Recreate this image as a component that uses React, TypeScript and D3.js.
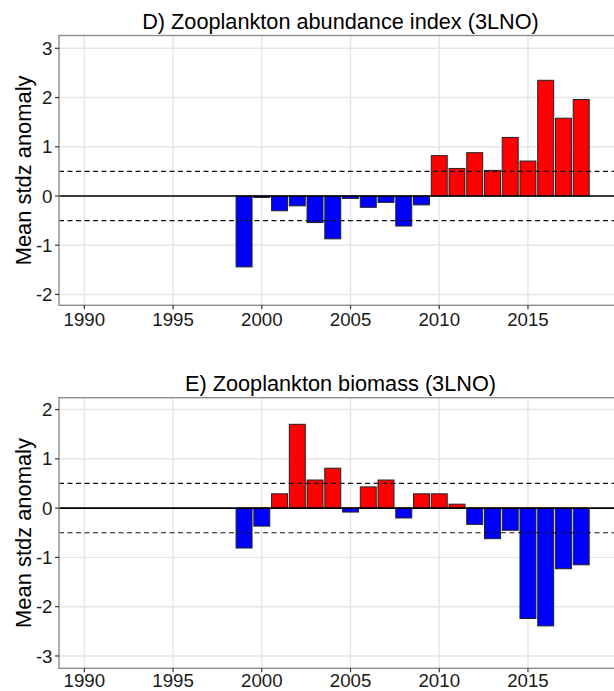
import React from "react";
import * as d3 from "d3";

const years = [1999, 2000, 2001, 2002, 2003, 2004, 2005, 2006, 2007, 2008, 2009, 2010, 2011, 2012, 2013, 2014, 2015, 2016, 2017, 2018];

const abundance = [-1.44, -0.03, -0.3, -0.2, -0.54, -0.87, -0.05, -0.23, -0.13, -0.61, -0.18, 0.82, 0.56, 0.88, 0.52, 1.19, 0.71, 2.35, 1.58, 1.96];

const biomass = [-0.81, -0.365, 0.29, 1.7, 0.57, 0.81, -0.08, 0.43, 0.57, -0.2, 0.29, 0.29, 0.08, -0.33, -0.62, -0.45, -2.24, -2.39, -1.23, -1.15];

const xTicks = [1990, 1995, 2000, 2005, 2010, 2015];
const yTicksTop = [-2, -1, 0, 1, 2, 3];
const yTicksBottom = [-3, -2, -1, 0, 1, 2];

const W = 614;
const H = 691;
const FONT = "'Liberation Sans', Arial, Helvetica, sans-serif";

type PanelProps = {
  title: string;
  values: number[];
  yDomain: [number, number];
  yTicks: number[];
  top: number;
  bottom: number;
  labelGap: number;
};

function Panel({ title, values, yDomain, yTicks, top, bottom, labelGap }: PanelProps) {
  const left = 59;
  const right = 622;
  const x = d3.scaleLinear().domain([1988.57, 2020.3]).range([left, right]);
  const y = d3.scaleLinear().domain(yDomain).range([bottom, top]);
  const bw = (x(1991) - x(1990)) * 0.9;
  const midY = (top + bottom) / 2;

  return (
    <g>
      <text x={(left + right) / 2} y={top - 7} textAnchor="middle" fontSize={21.7} fill="#000" fontFamily={FONT}>
        {title}
      </text>
      {/* panel background grid */}
      {yTicks.map((t) => (
        <line key={"gy" + t} x1={left} x2={right} y1={y(t)} y2={y(t)} stroke="#e5e5e5" strokeWidth={1.4} />
      ))}
      {xTicks.map((t) => (
        <line key={"gx" + t} x1={x(t)} x2={x(t)} y1={top} y2={bottom} stroke="#e5e5e5" strokeWidth={1.4} />
      ))}
      {/* anomaly bars */}
      {values.map((v, i) => {
        const yr = years[i];
        const y0 = y(0);
        const y1 = y(v);
        return (
          <rect
            key={yr}
            x={x(yr) - bw / 2}
            y={Math.min(y0, y1)}
            width={bw}
            height={Math.abs(y1 - y0)}
            fill={v >= 0 ? "#ff0000" : "#0000ff"}
            stroke="#222"
            strokeWidth={1}
          />
        );
      })}
      {/* reference lines */}
      <line x1={left} x2={right} y1={y(0)} y2={y(0)} stroke="#000" strokeWidth={1.6} />
      <line x1={left} x2={right} y1={y(0.5)} y2={y(0.5)} stroke="#111" strokeWidth={1.2} strokeDasharray="5,3.5" />
      <line x1={left} x2={right} y1={y(-0.5)} y2={y(-0.5)} stroke="#111" strokeWidth={1.2} strokeDasharray="5,3.5" />
      {/* panel border */}
      <rect x={left} y={top} width={right - left} height={bottom - top} fill="none" stroke="#8c8c8c" strokeWidth={1.4} />
      {/* y axis */}
      {yTicks.map((t) => (
        <g key={"ty" + t}>
          <line x1={left - 4} x2={left} y1={y(t)} y2={y(t)} stroke="#333" strokeWidth={1.2} />
          <text x={left - 6.5} y={y(t)} dy="0.35em" textAnchor="end" fontSize={18.7} fill="#1a1a1a" fontFamily={FONT}>
            {t}
          </text>
        </g>
      ))}
      {/* x axis */}
      {xTicks.map((t) => (
        <g key={"tx" + t}>
          <line x1={x(t)} x2={x(t)} y1={bottom} y2={bottom + 4} stroke="#333" strokeWidth={1.2} />
          <text x={x(t)} y={bottom + labelGap} textAnchor="middle" fontSize={18.7} fill="#1a1a1a" fontFamily={FONT}>
            {t}
          </text>
        </g>
      ))}
      <text
        transform={`translate(30.5,${midY}) rotate(-90)`}
        textAnchor="middle"
        fontSize={21.9}
        fill="#000"
        fontFamily={FONT}
      >
        Mean stdz anomaly
      </text>
    </g>
  );
}

export default function App() {
  return (
    <svg
      width={W}
      height={H}
      style={{ position: "absolute", left: 0, top: 0, display: "block", background: "#fff" }}
    >
      <rect width={W} height={H} fill="#fff" />
      <Panel
        title="D) Zooplankton abundance index (3LNO)"
        values={abundance}
        yDomain={[-2.22, 3.26]}
        yTicks={yTicksTop}
        top={35.5}
        bottom={305.3}
        labelGap={20.5}
      />
      <Panel
        title="E) Zooplankton biomass (3LNO)"
        values={biomass}
        yDomain={[-3.25, 2.24]}
        yTicks={yTicksBottom}
        top={397.7}
        bottom={668.3}
        labelGap={18.5}
      />
    </svg>
  );
}
